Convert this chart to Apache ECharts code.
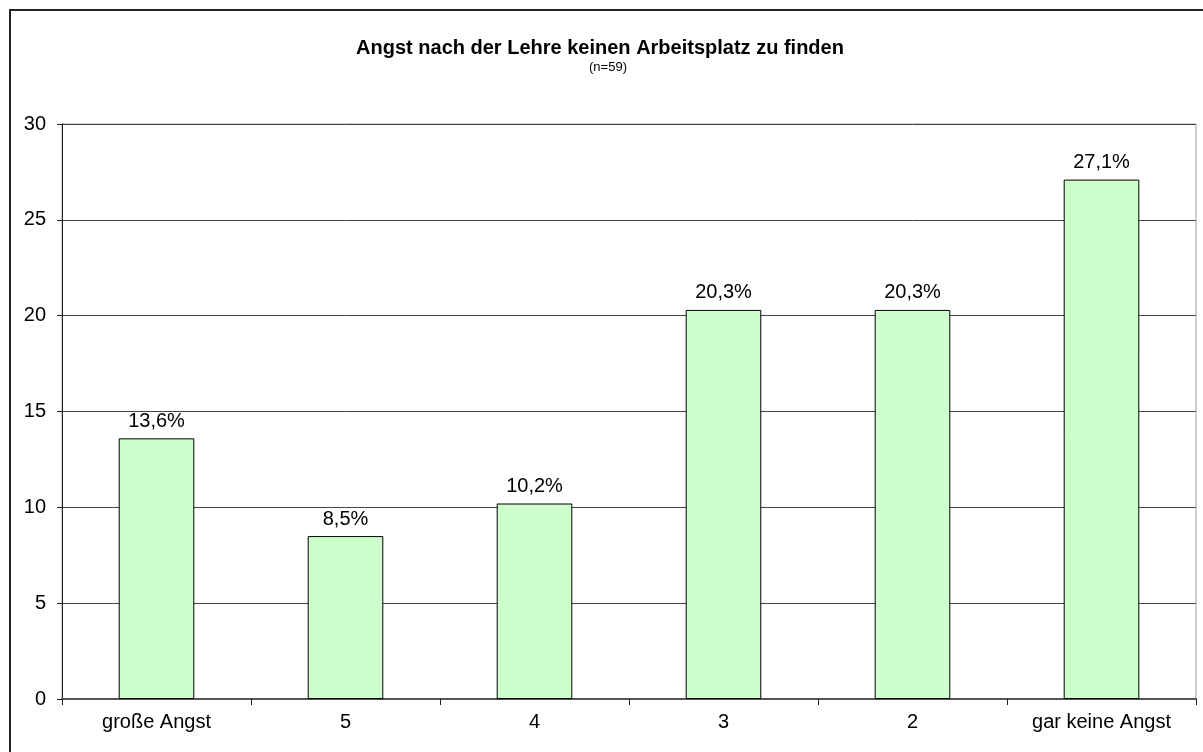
<!DOCTYPE html>
<html>
<head>
<meta charset="utf-8">
<script src="https://cdn.jsdelivr.net/npm/echarts@6/dist/echarts.min.js"></script>
<style>
  html, body { margin: 0; padding: 0; background: #fff; }
  #chart { width: 1203px; height: 752px; }
</style>
</head>
<body>
<div id="chart"></div>
<script>
const categories = ['große Angst', '5', '4', '3', '2', 'gar keine Angst'];
const percentValues = [13.6, 8.5, 10.2, 20.3, 20.3, 27.1];
const titleText = 'Angst nach der Lehre keinen Arbeitsplatz zu finden';
const subtitleText = '(n=59)';

const chart = echarts.init(document.getElementById('chart'), null, { renderer: 'canvas' });
const font = 'Liberation Sans, Arial, sans-serif';

chart.setOption({
  animation: false,
  textStyle: { fontFamily: font },
  title: [{
    text: titleText,
    left: 600,
    top: 38,
    textAlign: 'center',
    padding: 0,
    textStyle: { fontSize: 20, fontWeight: 'bold', color: '#000', fontFamily: font }
  }, {
    text: subtitleText,
    left: 608,
    top: 61,
    textAlign: 'center',
    padding: 0,
    textStyle: { fontSize: 13, fontWeight: 'normal', color: '#000', fontFamily: font }
  }],
  graphic: [{
    type: 'rect',
    shape: { x: 10, y: 10, width: 1400, height: 1000 },
    style: { fill: 'none', stroke: '#222', lineWidth: 2 },
    silent: true
  }],
  grid: { left: 62, right: 7, top: 124, bottom: 53, show: true, borderColor: '#a0a0a0', borderWidth: 1 },
  xAxis: {
    type: 'category',
    data: categories,
    axisLine: { show: true, lineStyle: { color: '#555', width: 2 } },
    axisTick: { show: true, length: 6, lineStyle: { color: '#222' } },
    axisLabel: { fontSize: 20, color: '#000', margin: 13, interval: 0 },
    splitLine: { show: false }
  },
  yAxis: {
    type: 'value',
    min: 0,
    max: 30,
    interval: 5,
    axisLine: { show: true, lineStyle: { color: '#222', width: 1 } },
    axisTick: { show: true, length: 5, lineStyle: { color: '#222' } },
    axisLabel: { fontSize: 20, color: '#000', margin: 16 },
    splitLine: { show: true, lineStyle: { color: '#444', width: 1 } }
  },
  series: [{
    type: 'bar',
    data: percentValues,
    barWidth: '40%',
    itemStyle: { color: '#CCFFCC', borderColor: '#000', borderWidth: 1 },
    label: {
      show: true,
      position: 'top',
      distance: 7,
      fontSize: 20,
      color: '#000',
      formatter: p => p.value.toFixed(1).replace('.', ',') + '%'
    }
  }]
});
</script>
</body>
</html>
